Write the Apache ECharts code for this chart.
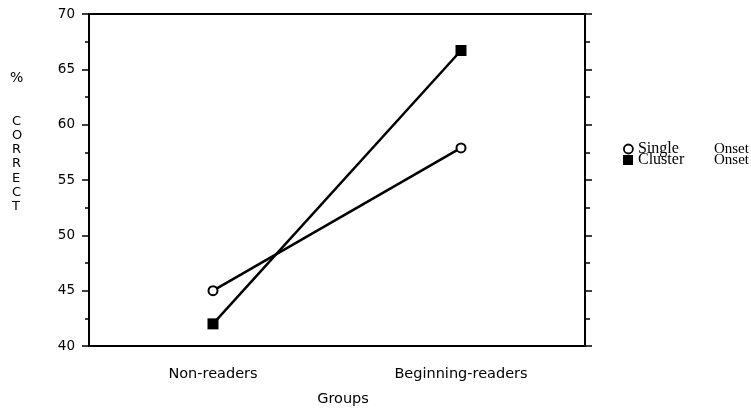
<!DOCTYPE html>
<html><head><meta charset="utf-8">
<script src="https://cdn.jsdelivr.net/npm/echarts@6/dist/echarts.min.js"></script>
<style>html,body{margin:0;padding:0;background:#fff}#c{width:751px;height:409px}</style>
</head><body><div id="c"></div>
<script>
const categories = ['Non-readers', 'Beginning-readers'];
const singleOnset = [45.0, 57.9];
const clusterOnset = [42.0, 66.7];
const seriesNames = ['Single Onset', 'Cluster Onset'];
const yMin = 40, yMax = 70, yStep = 5;

const chart = echarts.init(document.getElementById('c'), null, {renderer: 'canvas'});
const sans = 'DejaVu Sans';
const axisLineStyle = {color: '#000', width: 2};
const legendText = {
  color: '#000', fontFamily: 'Liberation Serif', fontSize: 16,
  rich: {
    a: {width: 76, fontFamily: 'Liberation Serif', fontSize: 16, color: '#000', verticalAlign: 'middle'},
    b: {fontFamily: 'Liberation Serif', fontSize: 15, color: '#000', verticalAlign: 'middle'}
  }
};
const legendFmt = function (n) { const p = n.split(' '); return '{a|' + p[0] + '}{b|' + p[1] + '}'; };
chart.setOption({
  animation: false,
  backgroundColor: '#fff',
  grid: {left: 89, right: 166, top: 14, bottom: 63, containLabel: false, outerBoundsMode: 'none'},
  xAxis: [{
    type: 'category', data: categories, boundaryGap: true,
    axisLine: {lineStyle: axisLineStyle},
    axisTick: {alignWithLabel: true, length: 6, lineStyle: {color: '#000', width: 1.5}},
    axisLabel: {color: '#000', fontFamily: sans, fontSize: 14.5, margin: 21},
    name: 'Groups', nameLocation: 'middle', nameGap: 46,
    nameTextStyle: {color: '#000', fontFamily: sans, fontSize: 14.5, padding: [0, 0, 0, 12]},
    splitLine: {show: false}
  }, {
    type: 'category', data: categories, position: 'top', boundaryGap: true,
    axisLine: {lineStyle: axisLineStyle}, axisTick: {show: false}, axisLabel: {show: false}
  }],
  yAxis: [{
    type: 'value', min: yMin, max: yMax, interval: yStep, position: 'left',
    axisLine: {show: true, lineStyle: axisLineStyle},
    axisTick: {show: true, length: 7, lineStyle: {color: '#000', width: 1.5}},
    minorTick: {show: true, splitNumber: 2, length: 4, lineStyle: {color: '#000', width: 1.5}},
    axisLabel: {color: '#000', fontFamily: sans, fontSize: 13.5, margin: 14},
    splitLine: {show: false}
  }, {
    type: 'value', min: yMin, max: yMax, interval: yStep, position: 'right',
    axisLine: {show: true, lineStyle: axisLineStyle},
    axisTick: {show: true, length: 7, lineStyle: {color: '#000', width: 1.5}},
    minorTick: {show: true, splitNumber: 2, length: 5, lineStyle: {color: '#000', width: 1.5}},
    axisLabel: {show: false},
    splitLine: {show: false}
  }],
  legend: [{
    orient: 'vertical', left: 623, top: 141, padding: 0, itemWidth: 9, itemHeight: 9,
    data: [{name: seriesNames[0], icon: 'circle', itemStyle: {color: '#fff', borderColor: '#000', borderWidth: 1.8}}],
    formatter: legendFmt, textStyle: legendText
  }, {
    orient: 'vertical', left: 623, top: 152, padding: 0, itemWidth: 10, itemHeight: 10,
    data: [{name: seriesNames[1], icon: 'rect', itemStyle: {color: '#000', borderWidth: 0}}],
    formatter: legendFmt, textStyle: legendText
  }],
  graphic: [
    {type: 'text', left: 10, top: 71, style: {text: '%', fill: '#000', font: '14px "DejaVu Sans"'}},
    {type: 'text', left: 12, top: 114, style: {text: 'C\nO\nR\nR\nE\nC\nT', fill: '#000', font: '13px "DejaVu Sans"', lineHeight: 14.3, align: 'center'}}
  ],
  series: [{
    name: seriesNames[0], type: 'line', data: singleOnset, xAxisIndex: 0, yAxisIndex: 0,
    symbol: 'circle', symbolSize: 9,
    lineStyle: {color: '#000', width: 2.5},
    itemStyle: {color: '#fff', borderColor: '#000', borderWidth: 2},
    z: 3
  }, {
    name: seriesNames[1], type: 'line', data: clusterOnset, xAxisIndex: 0, yAxisIndex: 0,
    symbol: 'rect', symbolSize: 11,
    lineStyle: {color: '#000', width: 2.5},
    itemStyle: {color: '#000', borderColor: '#000', borderWidth: 0},
    z: 3
  }]
});
</script></body></html>
